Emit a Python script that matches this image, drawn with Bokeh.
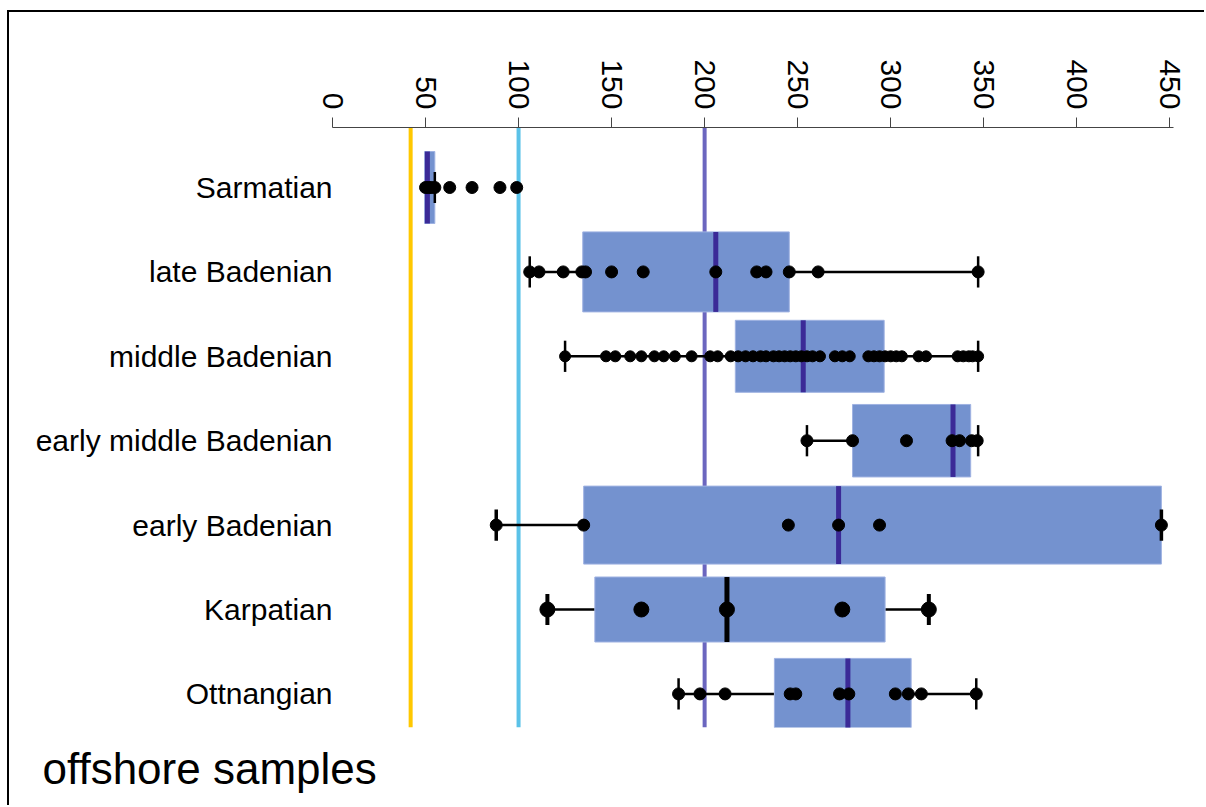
import math
from bokeh.plotting import figure
from bokeh.models import ColumnDataSource, Range1d, FixedTicker, Span, Title
from bokeh.embed import file_html
from bokeh.resources import INLINE

# ---------------- data ----------------
categories = ["Sarmatian", "late Badenian", "middle Badenian",
              "early middle Badenian", "early Badenian", "Karpatian", "Ottnangian"]
q1 = [49.5, 134.5, 216.5, 279.5, 135.0, 141.0, 237.5]
median = [51.0, 206.0, 253.0, 333.5, 272.0, 212.0, 277.0]
q3 = [55.0, 245.5, 296.5, 343.0, 445.5, 297.0, 311.0]
whisker_lo = [49.5, 106.0, 125.0, 255.0, 88.0, 115.5, 186.0]
whisker_hi = [55.0, 347.0, 347.0, 347.0, 445.5, 320.5, 346.0]

pts_sarmatian = [50.0, 51.5, 53.0, 55.0, 63.0, 75.0, 90.0, 99.0]
pts_late_badenian = [106, 111, 124, 134, 136, 150, 167, 206, 228, 233, 245.5, 261, 347]
pts_middle_badenian = [125, 147, 152, 160, 166, 173, 178, 184, 193, 203, 207, 214, 218,
                       222, 226, 230, 233, 237, 240, 243, 246, 249, 252, 255, 258, 262,
                       270, 274, 278, 288, 291, 294, 297, 300, 303, 306, 315, 319, 336,
                       339, 342, 344, 347]
pts_early_middle_badenian = [255, 279.5, 308.5, 333, 337, 343.5, 346.5]
pts_early_badenian = [88, 135, 245, 272, 294, 445.5]
pts_karpatian = [115.5, 166, 212, 274, 320.5]
pts_ottnangian = [186, 197.5, 211, 246, 249, 272.5, 277.5, 302.5, 309.5, 316.5, 346]
points = [pts_sarmatian, pts_late_badenian, pts_middle_badenian,
          pts_early_middle_badenian, pts_early_badenian, pts_karpatian, pts_ottnangian]

reference_values = [42, 100, 200]
x_ticks = [0, 50, 100, 150, 200, 250, 300, 350, 400, 450]
title_text = "offshore samples"

# ---------------- styles ----------------
ref_colors = ["#ffc800", "#5bc2e8", "#6b66bf"]
box_fill = "#7492cf"
box_line = "#9fb2e2"
box_heights = [0.853, 0.948, 0.853, 0.859, 0.924, 0.770, 0.841]
median_colors = ["#3b2a97"] * 7
median_colors[5] = "black"
dot_sizes = [12, 12, 11, 12, 12, 15, 12]
tick_widths = [2.5, 2.5, 2.5, 2.5, 3.5, 4, 2.5]
tick_half = 0.185
FONT = "Liberation Sans"

ypos = list(range(len(categories)))

# page border: the figure is offset 7px/10px and carries a 2px black left/top border
p = figure(width=1197, height=795, output_backend="svg", toolbar_location=None,
           x_range=Range1d(0, 452), y_range=Range1d(6.398, -0.711),
           x_axis_location="above",
           min_border_left=323, min_border_right=33,
           min_border_top=115, min_border_bottom=80,
           styles={"margin-left": "7px", "margin-top": "10px",
                   "border-left": "2px solid black", "border-top": "2px solid black"})
p.outline_line_color = None
p.xgrid.visible = False
p.ygrid.visible = False
p.background_fill_color = "white"
p.border_fill_color = "white"

# reference lines (under the boxes)
for v, c in zip(reference_values, ref_colors):
    p.add_layout(Span(location=v, dimension="height", line_color=c,
                      line_width=4, level="underlay"))

# whiskers
wl_x0, wl_x1, wl_y = [], [], []
for i in ypos:
    if whisker_lo[i] < q1[i]:
        wl_x0.append(whisker_lo[i]); wl_x1.append(q1[i]); wl_y.append(i)
    if whisker_hi[i] > q3[i]:
        wl_x0.append(q3[i]); wl_x1.append(whisker_hi[i]); wl_y.append(i)
p.segment(x0=wl_x0, y0=wl_y, x1=wl_x1, y1=wl_y, line_color="black", line_width=2.5)

# boxes
box_src = ColumnDataSource(dict(
    left=q1, right=q3,
    top=[i - h / 2 for i, h in zip(ypos, box_heights)],
    bottom=[i + h / 2 for i, h in zip(ypos, box_heights)],
    med=median, mc=median_colors))
p.quad(left="left", right="right", top="top", bottom="bottom", source=box_src,
       fill_color=box_fill, line_color=box_line, line_width=1)
p.segment(x0="med", y0="top", x1="med", y1="bottom", source=box_src,
          line_color="mc", line_width=5)

# whisker end ticks
tx, ty0, ty1, tw = [], [], [], []
for i in ypos:
    ends = [whisker_hi[i]] if whisker_lo[i] >= q1[i] else [whisker_lo[i], whisker_hi[i]]
    for e in ends:
        tx.append(e); ty0.append(i - tick_half); ty1.append(i + tick_half)
        tw.append(tick_widths[i])
p.segment(x0="x", y0="y0", x1="x", y1="y1",
          source=ColumnDataSource(dict(x=tx, y0=ty0, y1=ty1, w=tw)),
          line_color="black", line_width="w")

# data points
px, py, ps = [], [], []
for i, vals in enumerate(points):
    for v in vals:
        px.append(v); py.append(i); ps.append(dot_sizes[i])
p.scatter(x="x", y="y", size="s", source=ColumnDataSource(dict(x=px, y=py, s=ps)),
          fill_color="black", line_color="black")

# x axis (top)
xa = p.xaxis[0]
xa.ticker = FixedTicker(ticks=x_ticks)
xa.bounds = (0, 452)
xa.major_label_orientation = -math.pi / 2
xa.major_label_text_font = FONT
xa.major_label_text_font_size = "30px"
xa.major_label_text_color = "black"
xa.major_tick_out = 10
xa.major_tick_in = 0
xa.minor_tick_out = 0
xa.minor_tick_in = 0
xa.major_label_standoff = 8
xa.axis_line_color = "#444444"
xa.major_tick_line_color = "#444444"
xa.axis_line_width = 1.2

# y axis (categories)
ya = p.yaxis[0]
ya.ticker = FixedTicker(ticks=ypos)
ya.major_label_overrides = {i: c for i, c in enumerate(categories)}
ya.major_label_text_font = FONT
ya.major_label_text_font_size = "30px"
ya.major_label_text_color = "black"
ya.axis_line_color = None
ya.major_tick_line_color = None
ya.minor_tick_line_color = None
ya.major_tick_out = 0
ya.major_label_standoff = 0

# title text below the plot, left aligned
p.add_layout(Title(text=title_text, align="left", offset=-290, standoff=28,
                   text_font=FONT, text_font_size="44px", text_font_style="normal",
                   text_color="black"), "below")

open("out.html", "w").write(file_html(p, INLINE))
